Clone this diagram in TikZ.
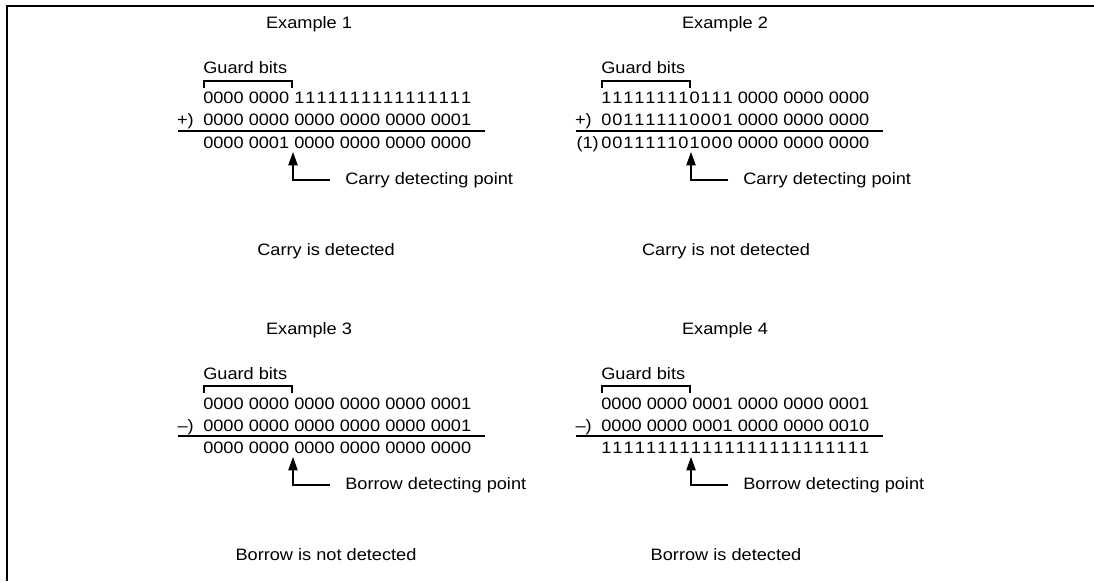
\documentclass[tikz,border=0pt]{standalone}
\usepackage{fontspec}
\setmainfont[FakeStretch=1.1]{Liberation Sans}
\usetikzlibrary{arrows.meta}
\makeatletter
\def\spr@next#1{\ifx#1\relax\else\hfill#1\expandafter\spr@next\fi}
\def\spr@first#1{#1\spr@next}
\newcommand\spreadas[2]{\setbox0\hbox{#1}\makebox[\wd0][s]{\spr@first#2\relax}}
\makeatother
\tikzset{
  txt/.style={anchor=base west, inner sep=0pt},
  ttl/.style={anchor=base, inner sep=0pt},
  opr/.style={anchor=base east, inner sep=0pt},
  lbl/.style={anchor=west, inner xsep=11.25pt, inner ysep=0pt},
  rule/.style={line width=1pt},
  brk/.style={line width=0.8pt},
  arr/.style={line width=0.8pt, -{Triangle[length=10pt,width=7pt]}},
  frame/.style={line width=1.6pt}
}
\begin{document}
\begin{tikzpicture}[x=0.75pt,y=-0.75pt,font=\fontsize{12.4}{15}\selectfont]
\useasboundingbox (0,0) rectangle (1094,581);
\draw[frame] (7,581) -- (7,6) -- (1094,6);

% ---------- Example 1 ----------
\node[ttl] (t1) at (309,29) {Example 1};
\node[txt] (g1) at (203,74) {Guard bits};
\draw[brk] (204,88) -- (204,81) -- (292,81) -- (292,88);
\node[txt] (a1) at (203,104) {0000 0000 \spreadas{0000 0000 0000 0000}{1111111111111111}};
\node[opr] (o1) at (194,126) {+)};
\node[txt] (b1) at (203,126) {0000 0000 0000 0000 0000 0001};
\coordinate (l1s) at (178,131); \coordinate (l1e) at (485,131);
\draw[rule] (l1s) -- (l1e);
\node[txt] (r1) at (203,148) {0000 0001 0000 0000 0000 0000};
\coordinate (p1) at (293,152);
\node[lbl] (d1) at (330,180) {Carry detecting point};
\draw[arr] (d1.west) -| (p1);
\node[ttl] (c1) at (326,255) {Carry is detected};

% ---------- Example 2 ----------
\node[ttl] (t2) at (725,29) {Example 2};
\node[txt] (g2) at (601,74) {Guard bits};
\draw[brk] (602,88) -- (602,81) -- (690,81) -- (690,88);
\node[txt] (a2) at (601,104) {\spreadas{0000 0000 0000}{111111110111} 0000 0000 0000};
\node[opr] (o2) at (592,126) {+)};
\node[txt] (b2) at (601,126) {\spreadas{0000 0000 0000}{001111110001} 0000 0000 0000};
\coordinate (l2s) at (576,131); \coordinate (l2e) at (883,131);
\draw[rule] (l2s) -- (l2e);
\node[opr] (o2c) at (599,148) {(1)};
\node[txt] (r2) at (601,148) {\spreadas{0000 0000 0000}{001111101000} 0000 0000 0000};
\coordinate (p2) at (691,152);
\node[lbl] (d2) at (728,180) {Carry detecting point};
\draw[arr] (d2.west) -| (p2);
\node[ttl] (c2) at (726,255) {Carry is not detected};

% ---------- Example 3 ----------
\node[ttl] (t3) at (309,334) {Example 3};
\node[txt] (g3) at (203,379) {Guard bits};
\draw[brk] (204,393) -- (204,386) -- (292,386) -- (292,393);
\node[txt] (a3) at (203,409) {0000 0000 0000 0000 0000 0001};
\node[opr] (o3) at (194,431) {–)};
\node[txt] (b3) at (203,431) {0000 0000 0000 0000 0000 0001};
\coordinate (l3s) at (178,436); \coordinate (l3e) at (485,436);
\draw[rule] (l3s) -- (l3e);
\node[txt] (r3) at (203,453) {0000 0000 0000 0000 0000 0000};
\coordinate (p3) at (293,457);
\node[lbl] (d3) at (330,485) {Borrow detecting point};
\draw[arr] (d3.west) -| (p3);
\node[ttl] (c3) at (326,560) {Borrow is not detected};

% ---------- Example 4 ----------
\node[ttl] (t4) at (725,334) {Example 4};
\node[txt] (g4) at (601,379) {Guard bits};
\draw[brk] (602,393) -- (602,386) -- (690,386) -- (690,393);
\node[txt] (a4) at (601,409) {0000 0000 0001 0000 0000 0001};
\node[opr] (o4) at (592,431) {–)};
\node[txt] (b4) at (601,431) {0000 0000 0001 0000 0000 0010};
\coordinate (l4s) at (576,436); \coordinate (l4e) at (883,436);
\draw[rule] (l4s) -- (l4e);
\node[txt] (r4) at (601,453) {\spreadas{0000 0000 0000 0000 0000 0000}{111111111111111111111111}};
\coordinate (p4) at (691,457);
\node[lbl] (d4) at (728,485) {Borrow detecting point};
\draw[arr] (d4.west) -| (p4);
\node[ttl] (c4) at (726,560) {Borrow is detected};
\end{tikzpicture}
\end{document}
